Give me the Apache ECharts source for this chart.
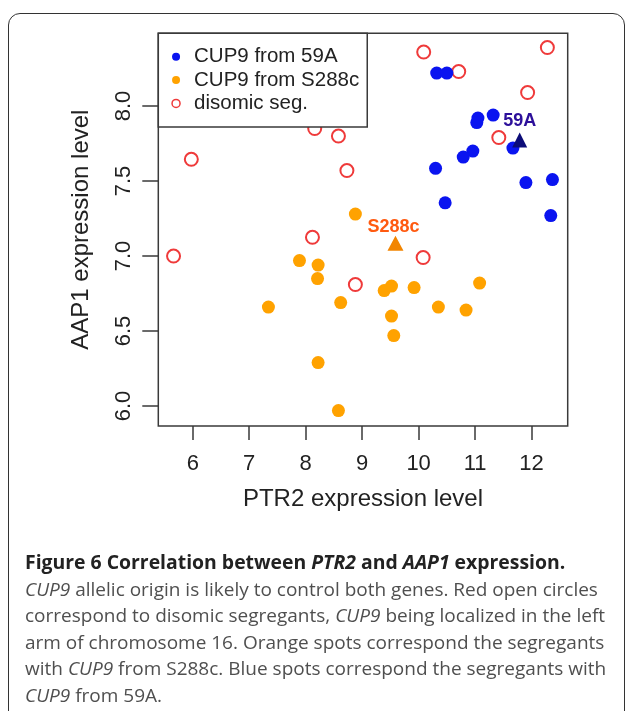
<!DOCTYPE html>
<html>
<head>
<meta charset="utf-8">
<title>PTR2 vs AAP1</title>
<script src="https://cdn.jsdelivr.net/npm/echarts@6/dist/echarts.min.js"></script>
<style>
  html, body { margin: 0; padding: 0; background: #fff; }
  .page { position: relative; width: 627px; height: 711px; overflow: hidden; }
  .frame {
    position: absolute; left: 8px; top: 13px; width: 615px; height: 760px;
    border: 1.5px solid #333; border-radius: 12px;
  }
  #chart { position: absolute; left: 0; top: 0; width: 627px; height: 711px; }
  .caption {
    position: absolute; left: 25px; top: 549px; width: 600px;
    font-family: 'Open Sans', sans-serif; font-size: 19px; line-height: 26.6px;
    color: #4f4f4f; white-space: nowrap;
  }
  .caption b { color: #222; font-size: 19.4px; }
</style>
</head>
<body>
<div class="page">
  <div class="frame"></div>
  <div id="chart"></div>
  <div class="caption">
    <b>Figure 6 Correlation between <i>PTR2</i> and <i>AAP1</i> expression.</b><br>
    <i>CUP9</i> allelic origin is likely to control both genes. Red open circles<br>
    correspond to disomic segregants, <i>CUP9</i> being localized in the left<br>
    arm of chromosome 16. Orange spots correspond the segregants<br>
    with <i>CUP9</i> from S288c. Blue spots correspond the segregants with<br>
    <i>CUP9</i> from 59A.
  </div>
</div>
<script>
  // tick labels
  const xTicks = [6, 7, 8, 9, 10, 11, 12]
  const yTicks = [6.0, 6.5, 7.0, 7.5, 8.0]

  // [PTR2, AAP1] per segregant
  const cup9From59A = [
    [10.32, 8.22], [10.50, 8.22], [11.05, 7.92], [11.03, 7.89], [11.32, 7.94],
    [10.96, 7.70], [10.79, 7.66], [11.67, 7.72], [10.30, 7.585], [11.90, 7.49],
    [12.37, 7.51], [10.47, 7.355], [12.34, 7.27]
  ]
  const cup9FromS288c = [
    [8.88, 7.28], [7.89, 6.97], [8.22, 6.94], [8.21, 6.85], [7.34, 6.66],
    [8.62, 6.69], [9.39, 6.77], [9.52, 6.80], [9.92, 6.79], [11.08, 6.82],
    [10.35, 6.66], [10.84, 6.64], [9.52, 6.60], [9.56, 6.47], [8.22, 6.29],
    [8.58, 5.97]
  ]
  const disomicSeg = [
    [10.09, 8.36], [12.28, 8.39], [10.71, 8.23], [11.93, 8.09], [8.16, 7.85],
    [8.58, 7.80], [5.975, 7.645], [11.42, 7.79], [8.73, 7.57], [8.12, 7.125],
    [5.66, 7.00], [10.08, 6.99], [8.88, 6.81]
  ]
  // parental strains
  const parent59A = [11.79, 7.773]
  const parentS288c = [9.59, 7.085]

  const axisFont = 'Liberation Sans, Arial, sans-serif'

  const chart = echarts.init(document.getElementById('chart'), null, { renderer: 'canvas' })

  const option = {
    animation: false,
    grid: {
      left: 158.3,
      right: 59.3,
      top: 33.3,
      bottom: 285,
      show: true,
      borderColor: '#3a3a3a',
      borderWidth: 1.5,
      backgroundColor: 'transparent'
    },
    legend: {
      orient: 'vertical',
      left: 158.3,
      top: 33.3,
      padding: [12.5, 8, 12.5, 13],
      itemGap: 1.3,
      itemWidth: 8,
      itemHeight: 8,
      itemTextGap: 5,
      borderColor: '#3a3a3a',
      borderWidth: 1.5,
      backgroundColor: '#fff',
      textStyle: {
        fontFamily: axisFont,
        fontSize: 20.5,
        lineHeight: 22,
        color: '#222',
        padding: [0, 0, 0, 9]
      },
      data: [
        { name: 'CUP9 from 59A', icon: 'circle' },
        { name: 'CUP9 from S288c', icon: 'circle' },
        { name: 'disomic seg.', icon: 'circle', itemStyle: { borderWidth: 1.5 } }
      ]
    },
    xAxis: {
      type: 'value',
      min: 5.39,
      max: 12.64,
      name: 'PTR2 expression level',
      nameLocation: 'middle',
      nameGap: 61,
      nameTextStyle: { fontFamily: axisFont, fontSize: 24, color: '#222' },
      axisLine: { show: false },
      splitLine: { show: false },
      axisTick: { show: true, length: 14, lineStyle: { color: '#3a3a3a', width: 1.5 }, customValues: xTicks },
      axisLabel: { customValues: xTicks, fontFamily: axisFont, fontSize: 22, color: '#222', margin: 27 }
    },
    yAxis: {
      type: 'value',
      min: 5.867,
      max: 8.485,
      name: 'AAP1 expression level',
      nameLocation: 'middle',
      nameGap: 65,
      nameTextStyle: { fontFamily: axisFont, fontSize: 24, color: '#222' },
      axisLine: { show: false },
      splitLine: { show: false },
      axisTick: { show: true, length: 16, lineStyle: { color: '#3a3a3a', width: 1.5 }, customValues: yTicks },
      axisLabel: {
        customValues: yTicks,
        rotate: 90,
        fontFamily: axisFont,
        fontSize: 22,
        color: '#222',
        margin: 23,
        formatter: (v) => v.toFixed(1)
      }
    },
    series: [
      {
        name: 'disomic seg.',
        type: 'scatter',
        symbol: 'circle',
        symbolSize: 13,
        itemStyle: { color: '#fff', borderColor: '#ef3a3a', borderWidth: 2, opacity: 1 },
        data: disomicSeg
      },
      {
        name: 'CUP9 from S288c',
        type: 'scatter',
        symbol: 'circle',
        symbolSize: 13,
        itemStyle: { color: '#ffa200', opacity: 1 },
        data: cup9FromS288c
      },
      {
        name: 'CUP9 from 59A',
        type: 'scatter',
        symbol: 'circle',
        symbolSize: 13,
        itemStyle: { color: '#0a14f0', opacity: 1 },
        data: cup9From59A
      },
      {
        name: 'S288c',
        type: 'scatter',
        symbol: 'triangle',
        symbolSize: [16, 15],
        itemStyle: { color: '#f28500', opacity: 1 },
        label: {
          show: true,
          position: 'top',
          distance: 0,
          offset: [-2, 0],
          formatter: '{a}',
          fontFamily: axisFont,
          fontWeight: 'bold',
          fontSize: 18,
          color: '#ff5a10'
        },
        data: [parentS288c]
      },
      {
        name: '59A',
        type: 'scatter',
        symbol: 'triangle',
        symbolSize: [15, 15],
        itemStyle: { color: '#0c0c78', opacity: 1 },
        label: {
          show: true,
          position: 'top',
          distance: 3,
          formatter: '{a}',
          fontFamily: axisFont,
          fontWeight: 'bold',
          fontSize: 18,
          color: '#2c0f9a'
        },
        data: [parent59A]
      }
    ]
  }

  chart.setOption(option)
</script>
</body>
</html>
